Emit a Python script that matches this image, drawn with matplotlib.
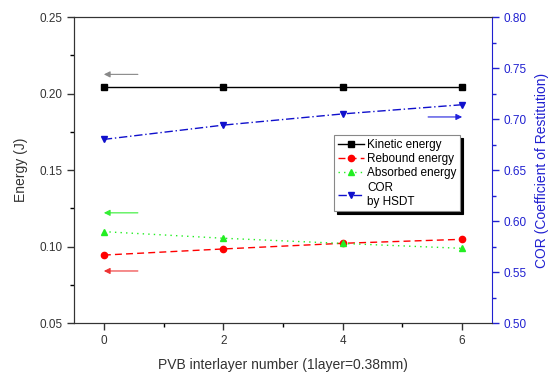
import matplotlib.pyplot as plt
from matplotlib.ticker import MultipleLocator

plt.rcParams['font.family'] = ['Liberation Sans', 'DejaVu Sans']

# PVB interlayer count and measured quantities
layers = [0, 2, 4, 6]
kinetic = [0.204, 0.204, 0.204, 0.204]
rebound = [0.0944, 0.0984, 0.1021, 0.1047]
absorbed = [0.1097, 0.1054, 0.1020, 0.0988]
cor = [0.680, 0.694, 0.705, 0.714]

blue = '#2020d0'
fig = plt.figure(figsize=(5.53, 3.72), dpi=100)
ax = fig.add_axes([0.1338, 0.1317, 0.7559, 0.8226])
ax2 = ax.twinx()

l1, = ax.plot(layers, kinetic, color='black', lw=1, marker='s', ms=4, label='Kinetic energy')
l2, = ax.plot(layers, rebound, color='red', lw=1, ls=(0, (5, 3)), marker='o', ms=4.5, label='Rebound energy')
l3, = ax.plot(layers, absorbed, color='#22ee22', lw=1, ls=(0, (1, 3)), marker='^', ms=4.5, label='Absorbed energy')
l4, = ax2.plot(layers, cor, color='#1010cc', lw=1, ls=(0, (6, 2, 1, 2)), marker='v', ms=4.5,
               label='COR\nby HSDT')

# arrows indicating which axis each curve belongs to
ax.annotate('', xy=(0, 0.2125), xytext=(0.57, 0.2125),
            arrowprops=dict(arrowstyle='-|>', color='#888888', lw=0.8, mutation_scale=9,
                            shrinkA=0, shrinkB=0))
ax.annotate('', xy=(0, 0.122), xytext=(0.57, 0.122),
            arrowprops=dict(arrowstyle='-|>', color='#33ee33', lw=0.8, mutation_scale=9,
                            shrinkA=0, shrinkB=0))
ax.annotate('', xy=(0, 0.084), xytext=(0.57, 0.084),
            arrowprops=dict(arrowstyle='-|>', color='#ee3333', lw=0.8, mutation_scale=9,
                            shrinkA=0, shrinkB=0))
ax2.annotate('', xy=(6, 0.702), xytext=(5.43, 0.702),
             arrowprops=dict(arrowstyle='-|>', color='#2222dd', lw=0.8, mutation_scale=9,
                             shrinkA=0, shrinkB=0))

ax.set_xlim(-0.5, 6.5)
ax.set_ylim(0.05, 0.25)
ax2.set_ylim(0.50, 0.80)
ax.set_xticks([0, 2, 4, 6])
ax.xaxis.set_minor_locator(MultipleLocator(1))
ax.set_yticks([0.05, 0.10, 0.15, 0.20, 0.25])
ax.yaxis.set_minor_locator(MultipleLocator(0.025))
ax2.set_yticks([0.50, 0.55, 0.60, 0.65, 0.70, 0.75, 0.80])
ax2.yaxis.set_minor_locator(MultipleLocator(0.025))
ax.yaxis.set_major_formatter(plt.FormatStrFormatter('%.2f'))
ax2.yaxis.set_major_formatter(plt.FormatStrFormatter('%.2f'))

for a in (ax, ax2):
    a.tick_params(which='major', direction='out', length=5, width=1, labelsize=8.5)
    a.tick_params(which='minor', direction='out', length=3, width=1)
ax.tick_params(axis='both', colors='#333333', labelcolor='#333333')
ax2.tick_params(axis='y', which='both', colors=blue, labelcolor=blue)
ax.tick_params(top=False, right=False)

for s in ('left', 'bottom', 'top'):
    ax.spines[s].set_color('#333333')
    ax2.spines[s].set_color('#333333')
ax2.spines['right'].set_color(blue)
ax.spines['right'].set_visible(False)

ax.set_xlabel('PVB interlayer number (1layer=0.38mm)', fontsize=10, color='#333333', labelpad=8)
ax.set_ylabel('Energy (J)', fontsize=10, color='#333333', labelpad=8)
ax2.set_ylabel('COR (Coefficient of Restitution)', fontsize=10, color=blue, labelpad=6)

leg = ax2.legend(handles=[l1, l2, l3, l4], loc='upper left', bbox_to_anchor=(0.622, 0.614),
                 fontsize=8.5, frameon=True, fancybox=False,
                 shadow=dict(color='black', alpha=1.0),
                 handlelength=2.2, handletextpad=0.3, borderpad=0.3, labelspacing=0.2,
                 borderaxespad=0)
leg.get_frame().set_edgecolor('#888888')
leg.get_frame().set_linewidth(0.8)

fig.savefig('out.png', dpi=100)
